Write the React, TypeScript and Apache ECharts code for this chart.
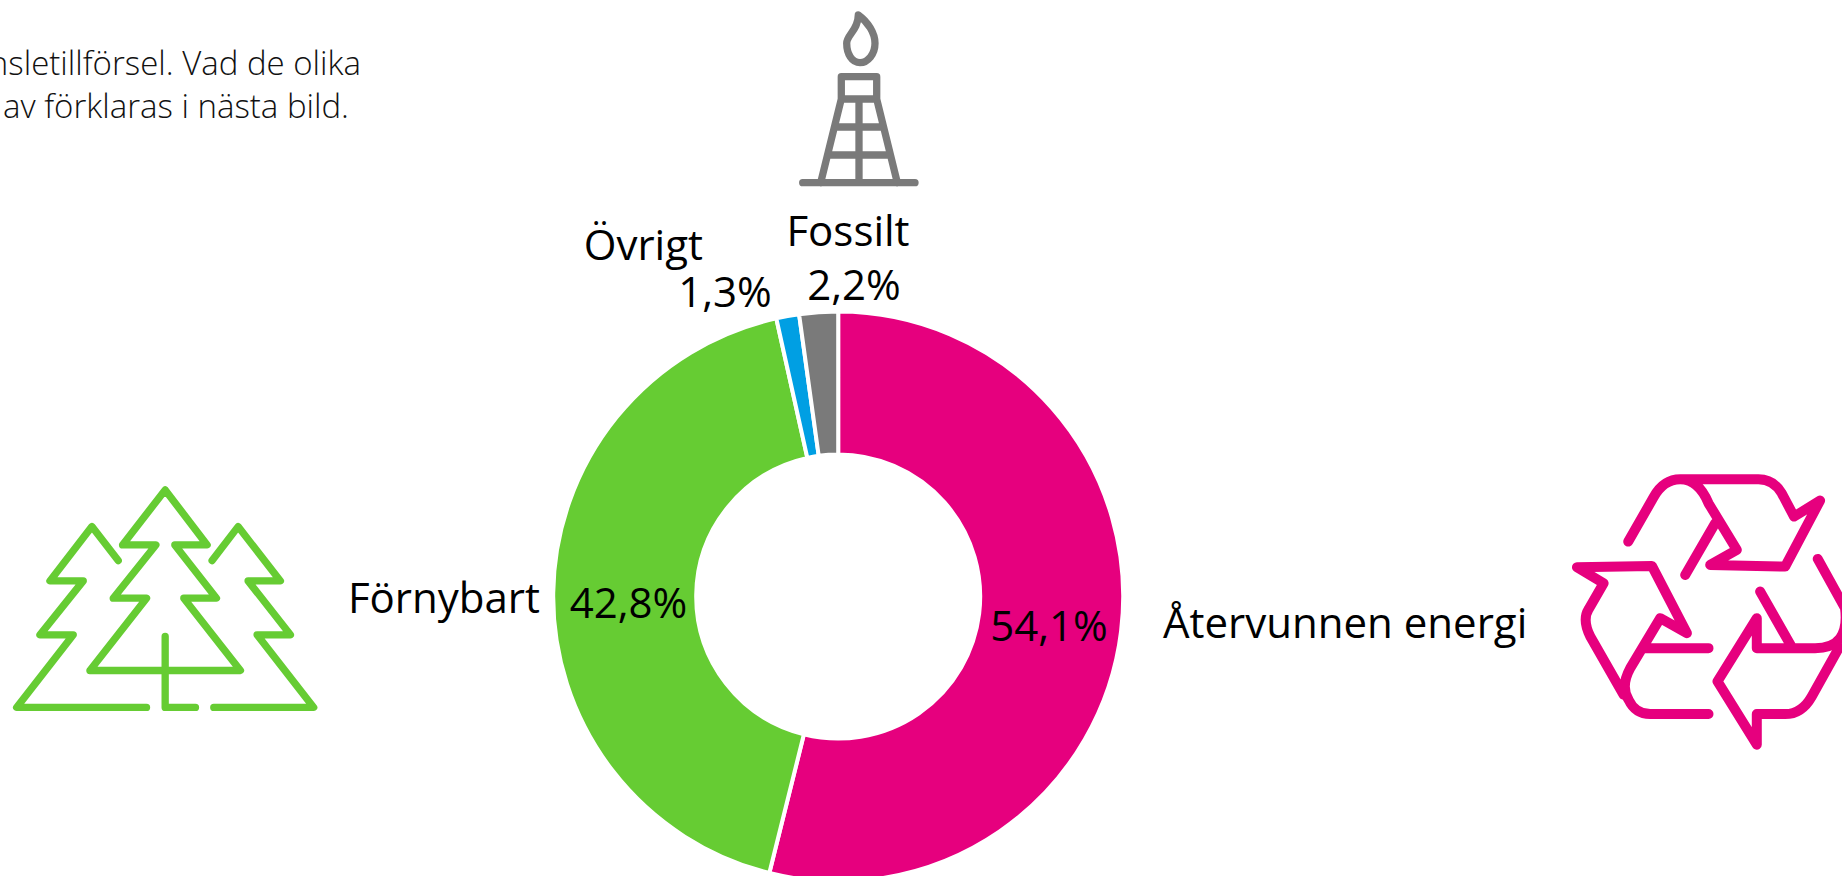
import React, { useEffect, useRef } from "react";
import * as echarts from "echarts";

const categories = ["Återvunnen energi", "Förnybart", "Övrigt", "Fossilt"];
const values = [54.1, 42.8, 1.3, 2.2];
const colors = ["#E6007E", "#66CC33", "#009FE3", "#7A7A7A"];
const introLines = ["bränsletillförsel. Vad de olika", "av förklaras i nästa bild."];

const towerPath =
  "M858.3 15 C868 22 875 33 875 43.3 C875 54 868 62.7 860 62.7 C852 62.7 846.7 54 846.7 43.3 C846.7 35 858.3 30 858.3 15 Z " +
  "M841.3 76.7 L876.7 76.7 L876.7 99 L841.3 99 Z " +
  "M841.3 99 L820.7 182.7 M876.7 99 L897.3 182.7 M802.7 182.7 L915 182.7 M859 99 L859 182.7 " +
  "M835 127 L883 127 M828.3 155 L890 155";

const treesPath =
  "M496 60 L622 225 L525 225 L650 385 L552 385 L722 602 L270 602 L440 385 L340 385 L468 225 L368 225 Z " +
  "M355 272 L276 170 L150 333 L250 333 L120 495 L220 495 L50 713 L440 713 " +
  "M637 272 L715 170 L842 333 L745 333 L872 495 L772 495 L942 713 L642 713 " +
  "M496 500 L496 713 L587 713";

const recyclePath =
  "M229 245 L305 112 Q335 58 385 58 L620 58 Q665 58 690 100 L727 170 L805 122 L700 320 L475 315 L555 270 L470 130 Q440 58 385 58 " +
  "M400 345 L490 190 " +
  "M75 322 L300 318 L405 520 L325 475 L235 625 Q205 680 230 720 Q250 763 295 763 L470 763 " +
  "M75 322 L155 370 L110 448 Q90 480 115 530 L215 705 " +
  "M275 565 L470 565 " +
  "M625 395 L722 565 " +
  "M798 297 L880 445 Q895 565 790 565 L615 565 L615 475 L497 665 L615 855 L615 763 L700 763 Q750 763 780 710 L875 540";

echarts.graphic.registerShape("tower", echarts.graphic.extendPath(towerPath, {}));
echarts.graphic.registerShape("trees", echarts.graphic.extendPath(treesPath, {}));
echarts.graphic.registerShape("recycle", echarts.graphic.extendPath(recyclePath, {}));

const LABEL_FONT = "'Open Sans', sans-serif";
const labelPlaces = [
  { x: 1049, y: 624 },
  { x: 628.5, y: 601 },
  { x: 725, y: 290 },
  { x: 854, y: 283 },
];
const namePlaces = [
  { x: 1163, y: 621, align: "left" },
  { x: 540, y: 596, align: "right" },
  { x: 703, y: 243, align: "right" },
  { x: 848, y: 229, align: "center" },
];

export default function App() {
  const ref = useRef<HTMLDivElement>(null);
  useEffect(() => {
    document.body.style.margin = "0";
    document.body.style.background = "#fff";
    const chart = echarts.init(ref.current!, undefined, { renderer: "svg" });
    const iconStyle = (c: string, w: number) => ({
      stroke: c,
      fill: "none",
      lineWidth: w,
      lineCap: "round",
      lineJoin: "round",
    });
    chart.setOption({
      animation: false,
      backgroundColor: "#ffffff",
      series: [
        {
          type: "pie",
          center: [838.2, 596.5],
          radius: [142, 285],
          startAngle: 90,
          clockwise: true,
          silent: true,
          itemStyle: { borderColor: "#ffffff", borderWidth: 4 },
          data: categories.map((name, i) => ({
            name,
            value: values[i],
            itemStyle: { color: colors[i] },
          })),
          label: {
            show: true,
            position: "inside",
            fontFamily: LABEL_FONT,
            fontSize: 42,
            color: "#000000",
            formatter: (p: any) => `${String(p.value).replace(".", ",")}%`,
          },
          labelLine: { show: false },
          labelLayout: (p: any) => ({
            x: labelPlaces[p.dataIndex].x,
            y: labelPlaces[p.dataIndex].y,
            align: "center",
            verticalAlign: "middle",
            hideOverlap: false,
          }),
        },
      ],
      graphic: [
        ...categories.map((name, i) => ({
          type: "text",
          x: namePlaces[i].x,
          y: namePlaces[i].y,
          style: {
            text: name,
            fill: "#000000",
            font: `42px ${LABEL_FONT}`,
            textAlign: namePlaces[i].align,
            textVerticalAlign: "middle",
          },
        })),
        {
          type: "text",
          x: 361,
          y: 62,
          style: {
            text: introLines[0],
            fill: "#111111",
            font: `300 33px ${LABEL_FONT}`,
            textAlign: "right",
            textVerticalAlign: "middle",
          },
        },
        {
          type: "text",
          x: 349,
          y: 105,
          style: {
            text: introLines[1],
            fill: "#111111",
            font: `300 33px ${LABEL_FONT}`,
            textAlign: "right",
            textVerticalAlign: "middle",
          },
        },
        { type: "tower", x: 0, y: 0, silent: true, style: iconStyle("#7A7A7A", 7.3) },
        {
          type: "trees",
          x: 0,
          y: 470,
          scaleX: 1 / 3,
          scaleY: 1 / 3,
          silent: true,
          style: iconStyle("#66CC33", 22),
        },
        {
          type: "recycle",
          x: 1552,
          y: 460,
          scaleX: 1 / 3,
          scaleY: 1 / 3,
          silent: true,
          style: iconStyle("#E6007E", 30),
        },
      ],
    });
    return () => chart.dispose();
  }, []);
  return <div ref={ref} style={{ position: "fixed", left: 0, top: 0, width: 1842, height: 876 }} />;
}
